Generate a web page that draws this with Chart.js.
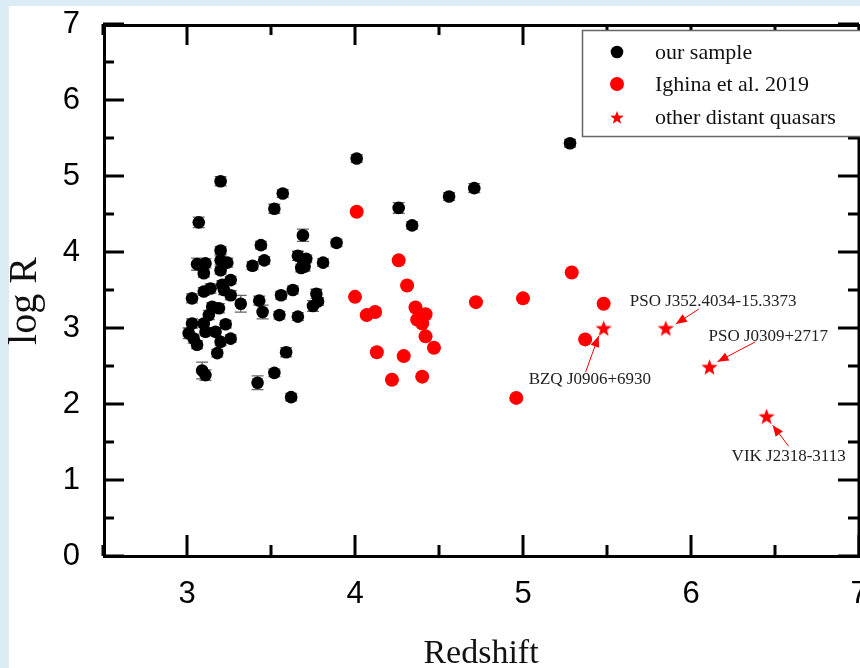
<!DOCTYPE html>
<html>
<head>
<meta charset="utf-8">
<script src="https://cdn.jsdelivr.net/npm/chart.js@4.4.1/dist/chart.umd.min.js"></script>
<style>
    html, body { margin: 0; padding: 0; background: #dbecf4; overflow: hidden; }
    canvas { display: block; }
</style>
</head>
<body>
<canvas id="chart-canvas" width="860" height="668"></canvas>
<script>
// our sample: redshift, log R, error on log R
const sampleZ = [
    4.01, 5.28, 4.71, 4.56, 4.26, 4.34,
    3.20, 3.57, 3.52, 3.07, 3.69, 3.89, 3.44, 3.20, 3.06, 3.11, 3.10, 3.20, 3.24, 3.20,
    3.39, 3.46, 3.66, 3.69, 3.70, 3.68, 3.71, 3.81, 3.26, 3.21, 3.14, 3.10, 3.22, 3.26,
    3.32, 3.03, 3.43, 3.45, 3.56, 3.63, 3.77, 3.78, 3.75, 3.55, 3.66, 3.15, 3.19, 3.13,
    3.03, 3.10, 3.23, 3.01, 3.11, 3.17, 3.04, 3.06, 3.20, 3.26, 3.18, 3.59, 3.09, 3.11,
    3.52, 3.42, 3.62
];
const sampleLogR = [
    5.23, 5.43, 4.84, 4.73, 4.58, 4.35,
    4.93, 4.77, 4.57, 4.39, 4.22, 4.12, 4.09, 4.02, 3.84, 3.85, 3.72, 3.89, 3.86, 3.76,
    3.82, 3.89, 3.95, 3.89, 3.81, 3.79, 3.91, 3.86, 3.63, 3.57, 3.52, 3.48, 3.50, 3.43,
    3.32, 3.39, 3.36, 3.21, 3.43, 3.50, 3.45, 3.35, 3.29, 3.17, 3.15, 3.28, 3.26, 3.17,
    3.06, 3.06, 3.05, 2.93, 2.95, 2.95, 2.86, 2.78, 2.82, 2.86, 2.67, 2.68, 2.44, 2.38,
    2.41, 2.28, 2.09
];
const sampleErr = [
    0.05, 0.05, 0.06, 0.05, 0.07, 0.05,
    0.06, 0.05, 0.06, 0.07, 0.08, 0.05, 0.05, 0.05, 0.08, 0.06, 0.05, 0.06, 0.06, 0.05,
    0.05, 0.05, 0.06, 0.08, 0.06, 0.05, 0.05, 0.05, 0.05, 0.05, 0.06, 0.05, 0.06, 0.06,
    0.11, 0.06, 0.06, 0.09, 0.05, 0.05, 0.06, 0.05, 0.07, 0.05, 0.05, 0.05, 0.06, 0.06,
    0.06, 0.05, 0.05, 0.07, 0.05, 0.05, 0.06, 0.05, 0.05, 0.05, 0.05, 0.06, 0.11, 0.07,
    0.05, 0.09, 0.05
];

// Ighina et al. 2019
const ighinaZ = [
    4.01, 4.26, 4.31, 4.00, 4.07, 4.12, 4.36, 4.42, 4.37, 4.40, 4.42,
    4.47, 4.13, 4.29, 4.22, 4.40, 4.72, 5.00, 5.29, 5.48, 5.37, 4.96
];
const ighinaLogR = [
    4.53, 3.89, 3.56, 3.41, 3.17, 3.21, 3.27, 3.18, 3.11, 3.06, 2.89,
    2.74, 2.68, 2.63, 2.32, 2.36, 3.34, 3.39, 3.73, 3.32, 2.85, 2.08
];

// other distant quasars
const quasarNames = ["BZQ J0906+6930", "PSO J352.4034-15.3373", "PSO J0309+2717", "VIK J2318-3113"];
const quasarZ = [5.48, 5.85, 6.11, 6.45];
const quasarLogR = [3.00, 3.00, 2.49, 1.84];

const seriesLabels = ["our sample", "Ighina et al. 2019", "other distant quasars"];
const xTicks = [3, 4, 5, 6, 7];
const yTicks = [0, 1, 2, 3, 4, 5, 6, 7];
const yTitle = "log R";

// label placement relative to each star, in pixels
const noteLayout = [
    { dx: -75, dy: 52, ax: -18, ay: 44, bx: -5, by: 8 },
    { dx: -36, dy: -26, ax: 33, ay: -19, bx: 10, by: -4 },
    { dx: -1, dy: -30, ax: 46, ay: -25, bx: 8, by: -5 },
    { dx: -35, dy: 40, ax: 22, ay: 30, bx: 6, by: 9 }
];

function makeStar(size, color) {
    const c = document.createElement("canvas");
    c.width = size; c.height = size;
    const g = c.getContext("2d");
    const R = size / 2, r = R * 0.42;
    g.fillStyle = color;
    g.beginPath();
    for (let i = 0; i < 10; i++) {
        const a = -Math.PI / 2 + i * Math.PI / 5;
        const rad = i % 2 ? r : R;
        g.lineTo(R + rad * Math.cos(a), R + 1 + rad * Math.sin(a));
    }
    g.closePath();
    g.fill();
    return c;
}
const starImg = makeStar(17, "#ff0000");
const starLegendImg = makeStar(14, "#ff0000");

function pairs(xs, ys) {
    return xs.map(function(x, i) { return { x: x, y: ys[i] }; });
}

const framePlugin = {
    id: "frame",
    beforeDraw: function(chart) {
        const ctx = chart.ctx;
        ctx.save();
        ctx.fillStyle = "#dbecf4";
        ctx.fillRect(0, 0, chart.width, chart.height);
        ctx.fillStyle = "#ffffff";
        ctx.fillRect(9, 6, chart.width - 9, chart.height - 6);
        ctx.restore();
    },
    beforeDatasetsDraw: function(chart) {
        const ctx = chart.ctx;
        const xs = chart.scales.x, ys = chart.scales.y;
        ctx.save();
        ctx.strokeStyle = "#666";
        ctx.lineWidth = 1.3;
        for (let i = 0; i < sampleZ.length; i++) {
            const px = xs.getPixelForValue(sampleZ[i]);
            const y0 = ys.getPixelForValue(sampleLogR[i] - sampleErr[i]);
            const y1 = ys.getPixelForValue(sampleLogR[i] + sampleErr[i]);
            ctx.beginPath();
            ctx.moveTo(px, y0); ctx.lineTo(px, y1);
            ctx.moveTo(px - 6, y0); ctx.lineTo(px + 6, y0);
            ctx.moveTo(px - 6, y1); ctx.lineTo(px + 6, y1);
            ctx.stroke();
        }
        ctx.restore();
    },
    afterDatasetsDraw: function(chart) {
        const ctx = chart.ctx;
        const a = chart.chartArea;
        const xs = chart.scales.x, ys = chart.scales.y;
        ctx.save();

        // y axis title
        ctx.save();
        ctx.translate(25, (a.top + a.bottom) / 2 + 11);
        ctx.rotate(-Math.PI / 2);
        ctx.font = "40px 'Liberation Serif'";
        ctx.fillStyle = "#111";
        ctx.textAlign = "center";
        ctx.textBaseline = "middle";
        ctx.fillText(yTitle, 0, 0);
        ctx.restore();

        // annotations
        ctx.font = "17px 'Liberation Serif'";
        ctx.textBaseline = "middle";
        ctx.textAlign = "left";
        for (let i = 0; i < quasarNames.length; i++) {
            const sx = xs.getPixelForValue(quasarZ[i]);
            const sy = ys.getPixelForValue(quasarLogR[i]);
            const L = noteLayout[i];
            ctx.fillStyle = "#222";
            ctx.fillText(quasarNames[i], sx + L.dx, sy + L.dy);
            const x0 = sx + L.ax, y0 = sy + L.ay, x1 = sx + L.bx, y1 = sy + L.by;
            ctx.strokeStyle = "#ff0000";
            ctx.fillStyle = "#ff0000";
            ctx.lineWidth = 1;
            ctx.beginPath(); ctx.moveTo(x0, y0); ctx.lineTo(x1, y1); ctx.stroke();
            const ang = Math.atan2(y1 - y0, x1 - x0);
            ctx.beginPath();
            ctx.moveTo(x1, y1);
            ctx.lineTo(x1 - 11 * Math.cos(ang) + 4.5 * Math.sin(ang), y1 - 11 * Math.sin(ang) - 4.5 * Math.cos(ang));
            ctx.lineTo(x1 - 11 * Math.cos(ang) - 4.5 * Math.sin(ang), y1 - 11 * Math.sin(ang) + 4.5 * Math.cos(ang));
            ctx.closePath();
            ctx.fill();
        }

        // frame
        ctx.strokeStyle = "#000";
        ctx.lineWidth = 3;
        ctx.strokeRect(a.left + 1.5, a.top + 1.5, a.right - a.left - 1.5, a.bottom - a.top - 1);

        // inward ticks on all four sides
        ctx.beginPath();
        for (let v = xs.min; v <= xs.max + 1e-9; v += 0.5) {
            const len = Number.isInteger(v) ? 21 : 11;
            const px = xs.getPixelForValue(v);
            ctx.moveTo(px, a.bottom); ctx.lineTo(px, a.bottom - len);
            ctx.moveTo(px, a.top); ctx.lineTo(px, a.top + len);
        }
        for (let v = ys.min; v <= ys.max + 1e-9; v += 0.5) {
            const len = Number.isInteger(v) ? 21 : 11;
            const py = ys.getPixelForValue(v);
            ctx.moveTo(a.left, py); ctx.lineTo(a.left + len, py);
            ctx.moveTo(a.right, py); ctx.lineTo(a.right - len, py);
        }
        ctx.stroke();

        // legend box
        ctx.fillStyle = "#fff";
        ctx.fillRect(582, 30, 300, 106);
        ctx.strokeStyle = "#666";
        ctx.lineWidth = 1.5;
        ctx.strokeRect(582.5, 30.5, 300, 106);
        ctx.font = "22px 'Liberation Serif'";
        ctx.textBaseline = "middle";
        const rows = [52, 84, 117];
        chart.data.datasets.forEach(function(ds, i) {
            const y = rows[i];
            if (ds.pointStyle === starImg) {
                ctx.drawImage(starLegendImg, 617 - 7, y - 7);
            } else {
                ctx.fillStyle = ds.backgroundColor;
                ctx.beginPath();
                ctx.arc(617, y, ds.pointRadius, 0, Math.PI * 2);
                ctx.fill();
            }
            ctx.fillStyle = "#111";
            ctx.fillText(ds.label, 655, y + 1);
        });
        ctx.restore();
    }
};

const canvas = document.getElementById("chart-canvas");
const chart = new Chart(canvas, {
    type: "scatter",
    data: {
        datasets: [
            {
                label: seriesLabels[0],
                data: pairs(sampleZ, sampleLogR),
                backgroundColor: "#000000",
                borderWidth: 0,
                pointRadius: 6.3
            },
            {
                label: seriesLabels[1],
                data: pairs(ighinaZ, ighinaLogR),
                backgroundColor: "#ff0000",
                borderWidth: 0,
                pointRadius: 7
            },
            {
                label: seriesLabels[2],
                data: pairs(quasarZ, quasarLogR),
                pointStyle: starImg,
                backgroundColor: "#ff0000"
            }
        ]
    },
    options: {
        responsive: false,
        animation: false,
        devicePixelRatio: 1,
        layout: { autoPadding: false, padding: { left: 0, top: 24, right: 1, bottom: 0 } },
        plugins: {
            legend: { display: false },
            tooltip: { enabled: false }
        },
        scales: {
            x: {
                type: "linear",
                min: 2.5,
                max: 7,
                grid: { display: false, drawTicks: false },
                border: { display: false },
                afterBuildTicks: function(s) { s.ticks = xTicks.map(function(v) { return { value: v }; }); },
                afterFit: function(s) { s.height = 112; s.paddingLeft = 0; s.paddingRight = 0; },
                ticks: {
                    font: { family: "'Liberation Sans'", size: 31 },
                    color: "#000",
                    padding: 20,
                    maxRotation: 0,
                    autoSkip: false
                },
                title: {
                    display: true,
                    text: "Redshift",
                    color: "#111",
                    font: { family: "'Liberation Serif'", size: 34, lineHeight: 1 },
                    padding: { top: 0, bottom: -3 }
                }
            },
            y: {
                type: "linear",
                min: 0,
                max: 7,
                grid: { display: false, drawTicks: false },
                border: { display: false },
                afterBuildTicks: function(s) { s.ticks = yTicks.map(function(v) { return { value: v }; }); },
                afterFit: function(s) { s.width = 103; s.paddingTop = 0; s.paddingBottom = 0; },
                ticks: {
                    font: { family: "'Liberation Sans'", size: 31 },
                    color: "#000",
                    padding: 23,
                    autoSkip: false
                }
            }
        }
    },
    plugins: [framePlugin]
});
</script>
</body>
</html>
